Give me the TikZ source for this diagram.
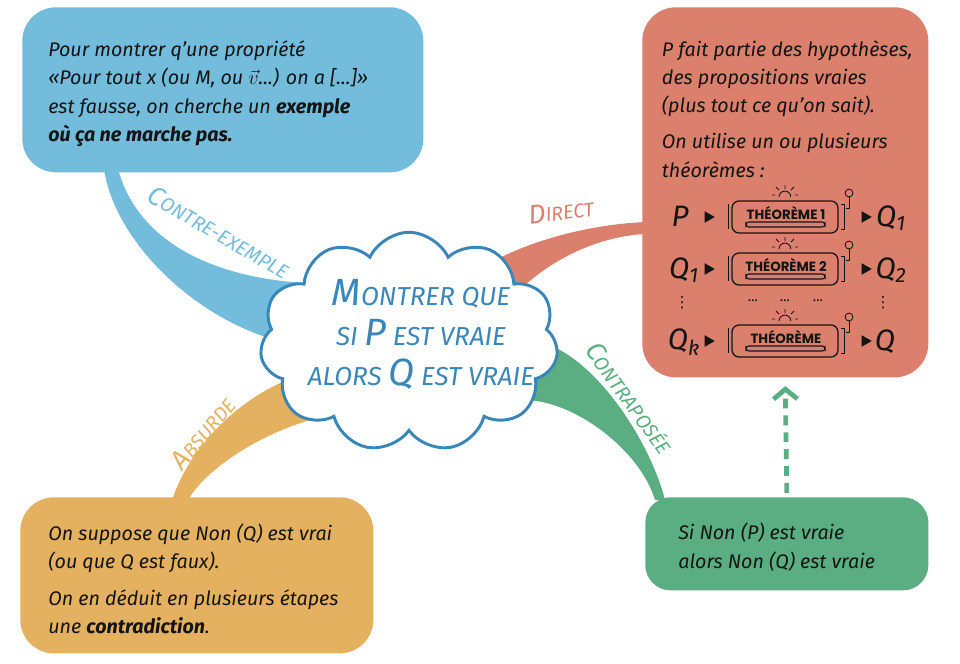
\documentclass[tikz,border=0pt]{standalone}
\usepackage{amssymb}
\usepackage{fontspec}
\setmainfont{Fira Sans}
\newfontfamily\machinefont{Poppins}
\newfontfamily\symbfont{DejaVu Sans}
\usetikzlibrary{arrows.meta,positioning,calc,shapes.geometric,shapes.symbols}
\definecolor{ciel}{RGB}{115,188,219}
\definecolor{nuage}{RGB}{58,134,184}
\definecolor{brique}{RGB}{218,128,108}
\definecolor{ocre}{RGB}{228,177,96}
\definecolor{menthe}{RGB}{91,174,129}
\definecolor{encre}{RGB}{20,20,20}

\begin{document}
\begin{tikzpicture}[x=0.025cm, y=-0.025cm,
    bulle/.style={rectangle, rounded corners=24pt, anchor=north west, inner sep=0pt},
    texte/.style={anchor=north west, align=left, inner sep=0pt, text=encre, font=\fontsize{14}{20}\selectfont\itshape},
    titre/.style={align=center, inner sep=0pt, text=nuage, font=\fontsize{18.5}{28.5}\selectfont\itshape},
    nuageux/.style={cloud, cloud puffs=11, cloud puff arc=130, cloud ignores aspect, draw=nuage, line width=2.1pt, fill=white, minimum width=212pt, minimum height=156pt, inner sep=0pt},
    lettre/.style={inner sep=0pt, text=encre, font=\fontsize{21}{21}\selectfont\itshape},
    tri/.style={regular polygon, regular polygon sides=3, shape border rotate=-90, fill=encre, minimum size=9.5pt, inner sep=0pt},
    points/.style={inner sep=0pt, text=encre},
    vpoints/.style={inner sep=0pt, text=encre, font=\symbfont\fontsize{11}{11}\selectfont},
    branche/.style={inner sep=1pt, font=\fontsize{14}{14}\selectfont\itshape},
    renvoi/.style={-{Straight Barb[length=7pt, width=17pt]}, line width=3.4pt, menthe, dash pattern=on 7pt off 5pt},
    machine/.pic={
        \draw[encre, rounded corners=5pt, line width=0.9pt] (-53,-16) rectangle (53,16);
        \node[inner sep=0pt, text=encre, font=\machinefont\bfseries\fontsize{9.5}{9.5}\selectfont] (-nom) at (1,-4) {#1};
        \draw[encre, rounded corners=2pt, line width=0.8pt] (-39,5) rectangle (40,10);
        \draw[encre, line width=0.7pt] (-57,-13) -- (-57,12);
        \draw[encre, line width=0.7pt] (56,-13) -- (59,-13) -- (59,12) -- (56,12);
        \draw[encre, line width=0.6pt] (64,-20) -- (64,-9) -- (61,-9);
        \draw[encre, line width=0.6pt] (64,-24) circle[radius=2.8pt];
        \draw[encre, line width=0.6pt] (-6,-20) arc[start angle=180, end angle=0, radius=4.2pt];
        \draw[encre, line width=0.6pt] (0,-28) -- (0,-32) (-6,-27) -- (-9,-30) (6,-27) -- (9,-30) (-10,-22) -- (-13,-22) (10,-22) -- (13,-22);
    }]

    \useasboundingbox (0,0) rectangle (960,664);

    % Boxes
    \node[bulle, fill=ciel, minimum width=285.2pt, minimum height=117.4pt] (contre) at (22,7) {};
    \node[bulle, fill=brique, minimum width=203.4pt, minimum height=263.2pt] (direct) at (642,7) {};
    \node[bulle, fill=ocre, minimum width=251.1pt, minimum height=111pt] (absurde) at (20,497) {};
    \node[bulle, fill=menthe, rounded corners=18pt, minimum width=201.3pt, minimum height=66.2pt] (contra) at (645,497) {};

    % Cloud (drawn later on top of the branches)
    \coordinate (centre) at (409,342);

    % Branches
    \fill[ciel] ($(contre.south west)+(82,-4)$) .. controls +(10,70) and +(-80,-25) .. ($(centre)+(-140,-4)$)
        -- ($(centre)+(-103,-59)$) .. controls +(-90,-5) and +(20,75) .. ($(contre.south west)+(96,-4)$) -- cycle;
    \fill[brique] ($(centre)+(72,-74)$) .. controls +(50,-30) and +(-50,2) .. ($(direct.north west)+(4,215)$)
        -- ($(direct.north west)+(4,227)$) .. controls +(-55,2) and +(30,-50) .. ($(centre)+(87,-22)$) -- cycle;
    \fill[menthe] ($(centre)+(120,-2)$) .. controls +(60,5) and +(-15,-60) .. ($(contra.north west)+(20,3)$)
        -- ($(contra.north west)+(10,3)$) .. controls +(-15,-50) and +(50,0) .. ($(centre)+(115,58)$) -- cycle;
    \fill[ocre] ($(absurde.north west)+(152,3)$) .. controls +(20,-60) and +(-50,15) .. ($(centre)+(-110,34)$)
        -- ($(centre)+(-60,70)$) .. controls +(-70,8) and +(20,-35) .. ($(absurde.north west)+(168,3)$) -- cycle;

    \node[nuageux] (nuage) at (centre) {};
    \node[titre] (titre) at (421,334) {{\fontsize{27}{27}\selectfont M}ONTRER QUE\\
        SI {\fontsize{27}{27}\selectfont P} EST VRAIE\\
        ALORS {\fontsize{27}{27}\selectfont Q} EST VRAIE};

    % Branch labels
    \node[branche, text=ciel, rotate=-30] (lcontre) at (219,232) {{\fontsize{19}{19}\selectfont C}ONTRE-EXEMPLE};
    \node[branche, text=brique, rotate=7] (ldirect) at (561,211) {{\fontsize{19}{19}\selectfont D}IRECT};
    \node[branche, text=menthe, rotate=-54] (lcontra) at (630,398) {{\fontsize{19}{19}\selectfont C}ONTRAPOSÉE};
    \node[branche, text=ocre, rotate=50] (labsurde) at (203,433) {{\fontsize{19}{19}\selectfont A}BSURDE};

    % Texts
    \node[texte, below right=24pt and 18.5pt of contre.north west] (tcontre) {Pour montrer q’une propriété\\
        «Pour tout x (ou M, ou $\vec{v}$...) on a [...]»\\
        est fausse, on cherche un \textbf{exemple}\\
        \textbf{où ça ne marche pas.}};
    \node[texte, below right=23.5pt and 14pt of direct.north west] (tdirect) {P fait partie des hypothèses,\\
        des propositions vraies\\
        (plus tout ce qu’on sait).\\[6pt]
        On utilise un ou plusieurs\\
        théorèmes :};
    \node[texte, below right=19pt and 20pt of absurde.north west] (tabsurde) {On suppose que Non (Q) est vrai\\
        (ou que Q est faux).\\[6pt]
        On en déduit en plusieurs étapes\\
        une \textbf{contradiction}.};
    \node[texte, below right=18.5pt and 23.5pt of contra.north west] (tcontra) {Si Non (P) est vraie\\
        alors Non (Q) est vraie};

    % Theorem chain
    \node[lettre] (p0) at (680,216) {P};
    \node[tri] (e1) at (708,217) {};
    \pic (th1) at (785,217) {machine={THÉORÈME 1}};
    \node[tri] (s1) at (865,217) {};
    \node[lettre] (q1) at (891,218) {Q\textsubscript{1}};

    \node[lettre] (q1b) at (684,270) {Q\textsubscript{1}};
    \node[tri] (e2) at (708,269) {};
    \pic (th2) at (785,269) {machine={THÉORÈME 2}};
    \node[tri] (s2) at (865,269) {};
    \node[lettre] (q2) at (891,270) {Q\textsubscript{2}};

    \node[vpoints] (v1) at (682,303) {⋮};
    \node[points] (h1) at (753,301) {...};
    \node[points] (h2) at (785,301) {...};
    \node[points] (h3) at (818,301) {...};
    \node[vpoints] (v2) at (883,303) {⋮};

    \node[lettre] (qk) at (684,342) {Q\textsubscript{k}};
    \node[tri] (e3) at (708,341) {};
    \pic (th3) at (785,341) {machine={THÉORÈME}};
    \node[tri] (s3) at (865,341) {};
    \node[lettre] (q) at (885,342) {Q};

    % Contrapositive implies direct
    \draw[renvoi] ([yshift=3pt]contra.north) -- ([yshift=-6pt]direct.south);

\end{tikzpicture}
\end{document}
